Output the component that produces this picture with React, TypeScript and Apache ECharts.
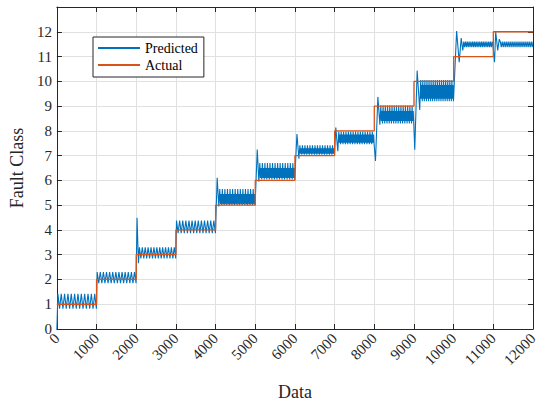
import React, { useEffect, useRef } from "react";
import * as echarts from "echarts";

// ---- data ----
const segmentStarts = [0, 1000, 2000, 3000, 4000, 5000, 6000, 7000, 8000, 9000, 10000, 11000];
const actualClass = [1, 2, 3, 4, 5, 6, 7, 8, 9, 10, 11, 12];

// transient points [x, value] at the start of each segment of the predicted signal
const predTransients: [number, number][][] = [
  [[0, 0]],
  [],
  [[2020, 4.49], [2055, 2.66]],
  [],
  [[4040, 6.11], [4080, 4.95]],
  [[5050, 7.25], [5090, 5.95]],
  [[6050, 7.87], [6100, 6.88]],
  [[7030, 8.13], [7080, 7.18]],
  [[8030, 6.78], [8090, 9.37], [8140, 8.25]],
  [[9020, 7.24], [9080, 10.43], [9145, 8.84]],
  [[10075, 12.03], [10140, 10.77], [10190, 11.75], [10230, 11.25]],
  [[11030, 10.77], [11060, 12.0], [11110, 11.25], [11150, 11.7]],
];

// steady oscillation extremes (one cycle) of the predicted signal per segment
const predPattern: number[][] = [
  [1.42, 0.82],
  [2.3, 1.85],
  [3.3, 2.85],
  [4.38, 3.87],
  [5.65, 5.05, 5.45, 5.0],
  [6.7, 6.1, 6.5, 6.04],
  [7.42, 7.08, 7.3, 7.04],
  [7.97, 7.52, 7.85, 7.46],
  [9.02, 8.4, 8.8, 8.3],
  [10.05, 9.3, 9.85, 9.2],
  [11.6, 11.38],
  [11.6, 11.38],
];
const predCycles = [12, 13, 13, 13, 14, 14, 14, 15, 15, 16, 17, 17];

const yTickMax = 12;

// ---- build series data ----
const predictedData: [number, number][] = [];
segmentStarts.forEach((start, s) => {
  const trans = predTransients[s];
  trans.forEach((p) => predictedData.push(p));
  const from = trans.length ? trans[trans.length - 1][0] + 25 : start + 15;
  const to = start + 995;
  const pat = predPattern[s];
  const n = predCycles[s] * pat.length;
  for (let i = 0; i < n; i++) {
    predictedData.push([from + ((to - from) * i) / (n - 1), pat[i % pat.length]]);
  }
});

const actualData: [number, number][] = [];
segmentStarts.forEach((start, s) => {
  actualData.push([start, actualClass[s]]);
  actualData.push([start + 1000, actualClass[s]]);
});

const FONT = "Liberation Serif, Times New Roman, serif";
const AXIS = "#262626";
const GRID = "#e0e0e0";

export default function App() {
  const ref = useRef<HTMLDivElement>(null);
  useEffect(() => {
    document.body.style.margin = "0";
    const chart = echarts.init(ref.current!, null, { renderer: "svg" });
    const axisLine = () => ({ show: true, onZero: false, lineStyle: { color: AXIS, width: 1 } });
    const tickIn = () => ({ show: true, inside: true, length: 5, lineStyle: { color: AXIS, width: 1 } });
    const tickNeg = () => ({ show: true, inside: false, length: -5, lineStyle: { color: AXIS, width: 1 } });
    chart.setOption({
      animation: false,
      backgroundColor: "#fff",
      grid: { left: 50, top: 7, width: 483, height: 326, show: false },
      legend: {
        orient: "vertical",
        left: 93,
        top: 37,
        padding: [3, 6, 4, 5],
        itemGap: 1,
        itemWidth: 42,
        itemHeight: 2,
        backgroundColor: "#fff",
        borderColor: AXIS,
        borderWidth: 1,
        borderRadius: 0,
        textStyle: { fontFamily: FONT, fontSize: 14, color: "#000", lineHeight: 16 },
        data: [
          { name: "Predicted", icon: "rect" },
          { name: "Actual", icon: "rect" },
        ],
      },
      xAxis: [
        {
          type: "value",
          min: 0,
          max: 12000,
          interval: 1000,
          position: "bottom",
          axisLine: axisLine(),
          axisTick: tickIn(),
          axisLabel: {
            rotate: 45,
            margin: 7,
            fontFamily: FONT,
            fontSize: 15,
            color: AXIS,
            showMinLabel: true,
            showMaxLabel: true,
            formatter: (v: number) => String(v),
          },
          splitLine: { show: true, lineStyle: { color: GRID, width: 1 } },
          name: "Data",
          nameLocation: "middle",
          nameGap: 54,
          nameTextStyle: { fontFamily: FONT, fontSize: 18, color: AXIS },
        },
        {
          type: "value",
          min: 0,
          max: 12000,
          interval: 1000,
          position: "top",
          axisLine: axisLine(),
          axisTick: tickNeg(),
          axisLabel: { show: false },
          splitLine: { show: false },
        },
      ],
      yAxis: [
        {
          type: "value",
          min: 0,
          max: 13,
          interval: 1,
          position: "left",
          axisLine: axisLine(),
          axisTick: tickIn(),
          axisLabel: {
            margin: 5,
            fontFamily: FONT,
            fontSize: 15,
            color: AXIS,
            formatter: (v: number) => (v > yTickMax ? "" : String(v)),
          },
          splitLine: { show: true, lineStyle: { color: GRID, width: 1 } },
          name: "Fault Class",
          nameLocation: "middle",
          nameGap: 27,
          nameTextStyle: { fontFamily: FONT, fontSize: 18, color: AXIS },
        },
        {
          type: "value",
          min: 0,
          max: 13,
          interval: 1,
          position: "right",
          axisLine: axisLine(),
          axisTick: tickNeg(),
          axisLabel: { show: false },
          splitLine: { show: false },
        },
      ],
      series: [
        {
          name: "Predicted",
          type: "line",
          xAxisIndex: 0,
          yAxisIndex: 0,
          data: predictedData,
          showSymbol: false,
          silent: true,
          lineStyle: { color: "#0072BD", width: 1.1 },
          itemStyle: { color: "#0072BD" },
        },
        {
          name: "Actual",
          type: "line",
          xAxisIndex: 0,
          yAxisIndex: 0,
          data: actualData,
          showSymbol: false,
          silent: true,
          lineStyle: { color: "#D95319", width: 1.3 },
          itemStyle: { color: "#D95319" },
        },
      ],
    });
    return () => chart.dispose();
  }, []);
  return <div ref={ref} style={{ width: 550, height: 406 }} />;
}
